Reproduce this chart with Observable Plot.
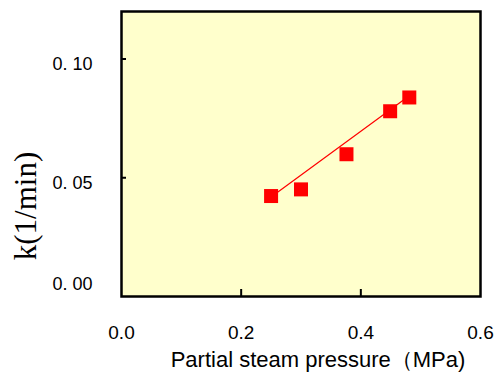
<!DOCTYPE html>
<html>
<head>
<meta charset="utf-8">
<script src="https://cdn.jsdelivr.net/npm/d3@7"></script>
<script src="https://cdn.jsdelivr.net/npm/@observablehq/plot@0.6"></script>
<style>
  html, body { margin: 0; padding: 0; background: #fff; }
  #chart svg { display: block; }
</style>
</head>
<body>
<div id="chart"></div>
<script>
// Data
const pressure = [0.25, 0.30, 0.376, 0.449, 0.481];   // Partial steam pressure (MPa)
const kValue   = [0.0423, 0.0451, 0.0599, 0.0780, 0.0838]; // k (1/min)
const fitX = [0.25, 0.481];
const fitY = [0.0419, 0.0845];
const xTicks = [0.0, 0.2, 0.4, 0.6];
const xInnerTicks = [0.2, 0.4];
const yTicks = [0.00, 0.05, 0.10];
const yInnerTicks = [0.05, 0.10];
const xTitle = "Partial steam pressure（MPa)";
const yTitle = "k(1/min)";

const points = pressure.map((p, i) => ({p, k: kValue[i]}));
const fit = fitX.map((p, i) => ({p, k: fitY[i]}));
const fmtY = d => d.toFixed(2).replace(".", ". ");
const fmtX = d => d.toFixed(1);

const chart = Plot.plot({
  width: 496,
  height: 378,
  marginLeft: 121,
  marginRight: 16,
  marginTop: 11,
  marginBottom: 82,
  style: {background: "#ffffff", fontFamily: "'Liberation Sans', Arial, sans-serif"},
  x: {domain: [0, 0.6], axis: null},
  y: {domain: [0, 0.12], axis: null},
  marks: [
    Plot.frame({fill: "#FFFFCC", stroke: "none"}),
    // inward ticks
    Plot.tickY(yInnerTicks, {y: d => d, stroke: "#000", strokeWidth: 2, insetRight: 354}),
    Plot.tickX(xInnerTicks, {x: d => d, stroke: "#000", strokeWidth: 2, insetTop: 278}),
    Plot.frame({stroke: "#000", strokeWidth: 2.5}),
    // tick labels
    Plot.text(yTicks.filter(d => d > 0), {y: d => d, text: fmtY, frameAnchor: "left", dx: -29, dy: 5, textAnchor: "end", fontSize: 18, fill: "#000"}),
    Plot.text(yTicks.filter(d => d === 0), {y: d => d, text: fmtY, frameAnchor: "left", dx: -29, dy: -12, textAnchor: "end", fontSize: 18, fill: "#000"}),
    Plot.text(xTicks, {x: d => d, text: fmtX, frameAnchor: "bottom", dy: 42, fontSize: 19, fill: "#000"}),
    // axis titles
    Plot.text([xTitle], {frameAnchor: "bottom", dx: 17, dy: 70, fontSize: 22, fill: "#000"}),
    Plot.text([yTitle], {frameAnchor: "left", dx: -95, dy: 52, textAnchor: "middle", rotate: -90, fontSize: 31, fontFamily: "'Liberation Serif', 'Times New Roman', serif", fill: "#000"}),
    // data
    Plot.line(fit, {x: "p", y: "k", stroke: "#FF0000", strokeWidth: 1.2}),
    Plot.dot(points, {x: "p", y: "k", symbol: "square", r: 7.9, fill: "#FF0000", stroke: "none"})
  ]
});
document.getElementById("chart").appendChild(chart);
</script>
</body>
</html>
